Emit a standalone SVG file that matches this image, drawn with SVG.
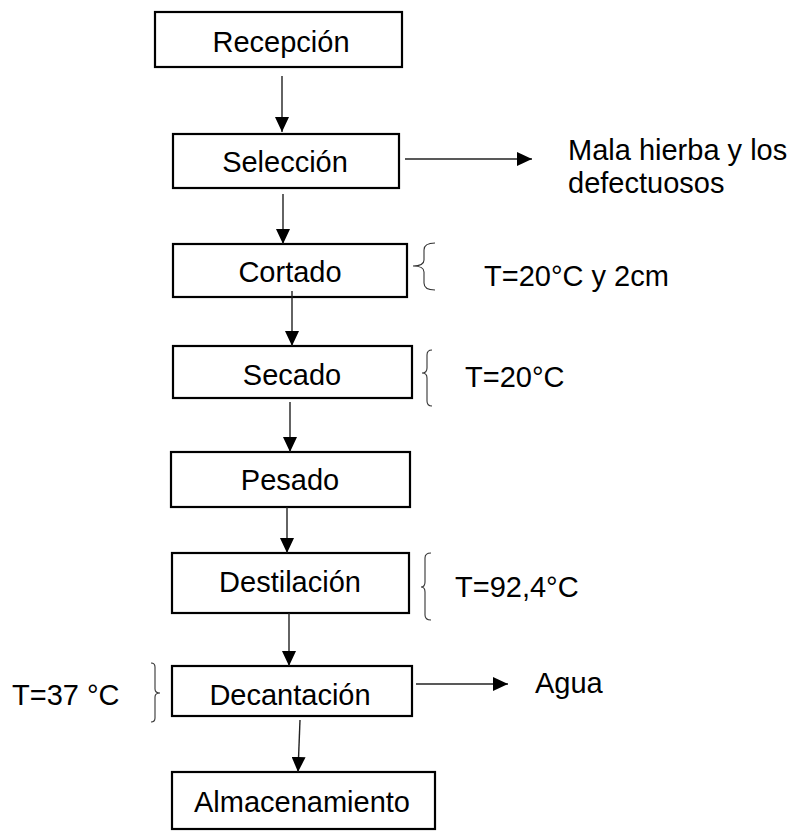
<svg xmlns="http://www.w3.org/2000/svg" width="790" height="831" viewBox="0 0 790 831">
<style>
.box{fill:#fff;stroke:#000;stroke-width:2.2}
.t{font-family:"Liberation Sans",Arial,sans-serif;font-size:29px;fill:#000}
.c{text-anchor:middle}
.ln{stroke:#222;stroke-width:1.4;fill:none}
.br{stroke:#333;stroke-width:1.1;fill:none}
</style>
<defs>
<marker id="ah" markerWidth="15" markerHeight="14" refX="15" refY="7" orient="auto" markerUnits="userSpaceOnUse">
<path d="M0,0 L15,7 L0,14 Z" fill="#000"/>
</marker>
</defs>
<rect width="790" height="831" fill="#fff"/>
<g id="recepcion"><rect class="box" x="155" y="12" width="247" height="55"/><text class="t c" x="281" y="52">Recepción</text></g>
<g id="seleccion"><rect class="box" x="173" y="134" width="226" height="54"/><text class="t c" x="285" y="172">Selección</text></g>
<g id="cortado"><rect class="box" x="173" y="244" width="234" height="53"/><text class="t c" x="290" y="282">Cortado</text></g>
<g id="secado"><rect class="box" x="173" y="346" width="239" height="52"/><text class="t c" x="292" y="385">Secado</text></g>
<g id="pesado"><rect class="box" x="171" y="452" width="239" height="55"/><text class="t c" x="290" y="490">Pesado</text></g>
<g id="destilacion"><rect class="box" x="172" y="553" width="237" height="60"/><text class="t c" x="290" y="592">Destilación</text></g>
<g id="decantacion"><rect class="box" x="172" y="666" width="240" height="50"/><text class="t c" x="290" y="705">Decantación</text></g>
<g id="almacenamiento"><rect class="box" x="172" y="772" width="263" height="57"/><text class="t c" x="302" y="812">Almacenamiento</text></g>
<g id="residuos"><text class="t" x="568" y="160">Mala hierba y los</text><text class="t" x="568" y="193">defectuosos</text></g>
<g id="agua"><text class="t" x="535" y="693">Agua</text></g>
<g id="cond-cortado"><path class="br" d="M435,243 Q424,243 424,250 L424,260 Q424,266 413,266 Q424,266 424,272 L424,283 Q424,290 435,290"/><text class="t" x="484" y="286">T=20°C y 2cm</text></g>
<g id="cond-secado"><path class="br" d="M432,350 Q427,350 427,355 L427,368 Q427,373 422,373 Q427,373 427,378 L427,401 Q427,406 432,406"/><text class="t" x="465" y="387">T=20°C</text></g>
<g id="cond-destilacion"><path class="br" d="M431,553 Q425,553 425,558 L425,582 Q425,587 421,587 Q425,587 425,592 L425,615 Q425,620 431,620"/><text class="t" x="455" y="597">T=92,4°C</text></g>
<g id="cond-decantacion"><path class="br" d="M151,663 Q155,663 155,667 L155,689 Q155,693 160,693 Q155,693 155,697 L155,718 Q155,722 151,722"/><text class="t" x="12" y="705">T=37 °C</text></g>
<g id="connectors">
<line class="ln" x1="282" y1="76" x2="282" y2="132" marker-end="url(#ah)"/>
<line class="ln" x1="405" y1="159" x2="532" y2="159" marker-end="url(#ah)"/>
<line class="ln" x1="283" y1="194" x2="283" y2="244" marker-end="url(#ah)"/>
<line class="ln" x1="292" y1="291" x2="292" y2="346" marker-end="url(#ah)"/>
<line class="ln" x1="290" y1="402" x2="290" y2="452" marker-end="url(#ah)"/>
<line class="ln" x1="287" y1="507" x2="287" y2="553" marker-end="url(#ah)"/>
<line class="ln" x1="289" y1="613" x2="289" y2="666" marker-end="url(#ah)"/>
<line class="ln" x1="416" y1="684" x2="508" y2="684" marker-end="url(#ah)"/>
<line class="ln" x1="300" y1="720" x2="298" y2="772" marker-end="url(#ah)"/>
</g>
</svg>
